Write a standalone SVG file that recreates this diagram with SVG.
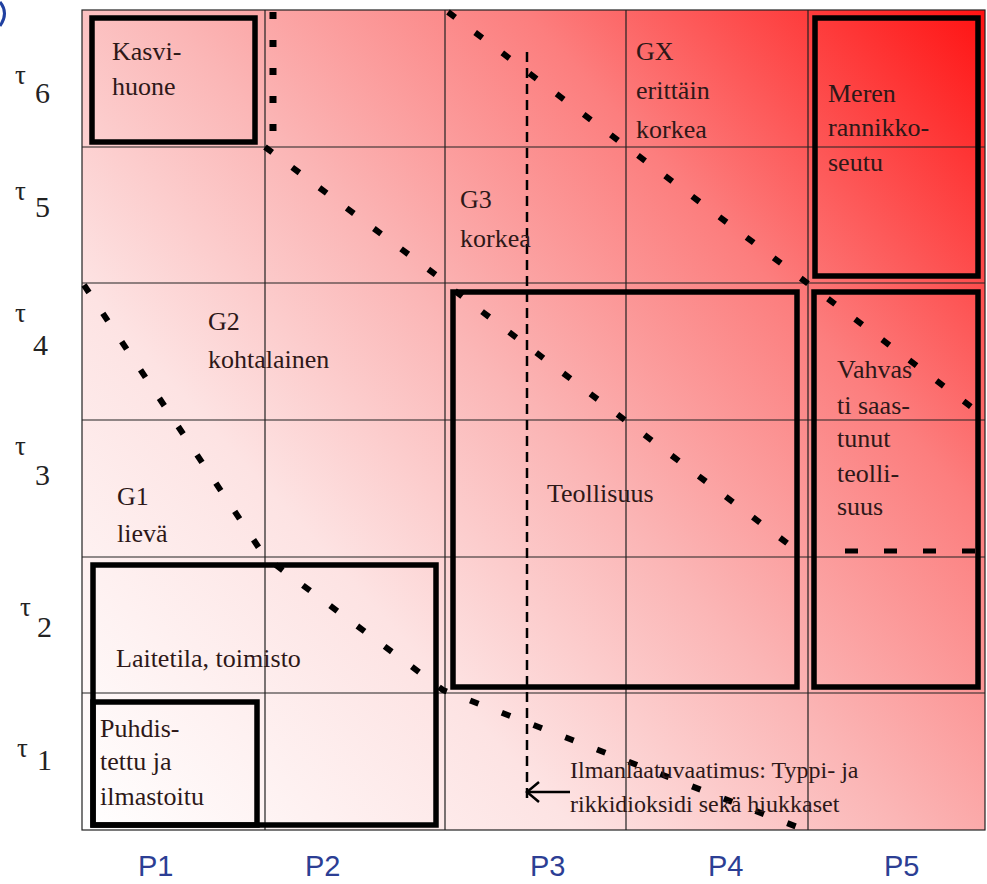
<svg xmlns="http://www.w3.org/2000/svg" width="987" height="884" viewBox="0 0 987 884">
<style>
.t{font-family:"Liberation Serif","Times New Roman",serif;font-size:26px;fill:#2e1818}
.s{font-size:24px}
.tau{font-family:"Liberation Serif","Times New Roman",serif;font-size:27px;fill:#222}
.num{font-family:"Liberation Serif","Times New Roman",serif;font-size:30px;fill:#222}
.p{font-family:"Liberation Sans",Arial,sans-serif;font-size:29px;fill:#2c3e94}
.grid{stroke:#222;stroke-width:1.2;fill:none}
.box{stroke:#000;stroke-width:5.5;fill:none}
.dot{stroke:#000;stroke-width:6;fill:none;stroke-dasharray:9 25}
</style>
<defs>
<linearGradient id="bg" gradientUnits="userSpaceOnUse" x1="82" y1="830" x2="985" y2="10">
<stop offset="0" stop-color="#ffffff"/>
<stop offset="0.3" stop-color="#fde3e3"/>
<stop offset="0.5" stop-color="#fbb6b6"/>
<stop offset="0.72" stop-color="#fc7e7e"/>
<stop offset="1" stop-color="#ff1212"/>
</linearGradient>
<marker id="arr" markerWidth="16" markerHeight="22" refX="14" refY="11" orient="auto" markerUnits="userSpaceOnUse">
<path d="M2,1 L14,11 L2,21" fill="none" stroke="#000" stroke-width="2.5"/>
</marker>
</defs>
<rect width="987" height="884" fill="#ffffff"/>
<path d="M0,2 Q9,13 0,26" fill="none" stroke="#2040a0" stroke-width="3"/>
<g id="grid">
<rect x="82" y="10" width="903" height="820" fill="url(#bg)"/>
<rect x="82" y="10" width="903" height="820" class="grid"/>
<path class="grid" d="M265,10V830M445,10V830M626,10V830M808,10V830M82,147H985M82,283H985M82,420H985M82,557H985M82,693H985"/>
</g>
<g id="row-labels">
<text class="tau" x="15" y="84">τ</text><text class="num" x="35" y="103">6</text>
<text class="tau" x="15" y="200">τ</text><text class="num" x="35" y="217">5</text>
<text class="tau" x="15" y="322">τ</text><text class="num" x="33" y="355">4</text>
<text class="tau" x="15" y="455">τ</text><text class="num" x="35" y="485">3</text>
<text class="tau" x="20" y="616">τ</text><text class="num" x="37" y="637">2</text>
<text class="tau" x="17" y="757">τ</text><text class="num" x="37" y="770">1</text>
</g>
<g id="col-labels">
<text class="p" x="138" y="876">P1</text>
<text class="p" x="305" y="876">P2</text>
<text class="p" x="530" y="876">P3</text>
<text class="p" x="708" y="876">P4</text>
<text class="p" x="884" y="876">P5</text>
</g>
<g id="connectors">
<path d="M273,12V142" fill="none" stroke="#000" stroke-width="7" stroke-dasharray="7 21"/>
<path class="dot" d="M265,147L440,278"/>
<path class="dot" d="M448,12L978,412"/>
<path class="dot" d="M455,291L800,553"/>
<path class="dot" d="M84,285L265,557L443,690L805,830"/>
<path d="M845,551H978" fill="none" stroke="#000" stroke-width="5" stroke-dasharray="13 26"/>
<path d="M527,52V800" fill="none" stroke="#000" stroke-width="2.5" stroke-dasharray="10 6"/>
<path d="M570,792H527" fill="none" stroke="#000" stroke-width="2.5" marker-end="url(#arr)"/>
</g>
<g id="kasvihuone">
<rect class="box" x="92" y="18" width="163" height="124"/>
<text class="t" x="112" y="60">Kasvi-</text>
<text class="t" x="112" y="95">huone</text>
</g>
<g id="meren-rannikkoseutu">
<rect class="box" x="815" y="18" width="163" height="258"/>
<text class="t" x="828" y="102">Meren</text>
<text class="t" x="828" y="136">rannikko-</text>
<text class="t" x="828" y="171">seutu</text>
</g>
<g id="teollisuus">
<rect class="box" x="453" y="292" width="344" height="395"/>
<text class="t" x="547" y="502">Teollisuus</text>
</g>
<g id="vahvasti-saastunut">
<rect class="box" x="814" y="292" width="164" height="395"/>
<text class="t" x="837" y="378">Vahvas</text>
<text class="t" x="837" y="414">ti saas-</text>
<text class="t" x="837" y="447">tunut</text>
<text class="t" x="837" y="482">teolli-</text>
<text class="t" x="837" y="515">suus</text>
</g>
<g id="laitetila">
<rect class="box" x="93" y="565" width="343" height="260"/>
<text class="t" x="116" y="667">Laitetila, toimisto</text>
</g>
<g id="puhdistettu">
<rect class="box" x="93" y="702" width="164" height="123"/>
<text class="t" x="100" y="737">Puhdis-</text>
<text class="t" x="100" y="770">tettu ja</text>
<text class="t" x="100" y="805">ilmastoitu</text>
</g>
<g id="gx">
<text class="t" x="636" y="60">GX</text>
<text class="t" x="636" y="99">erittäin</text>
<text class="t" x="636" y="138">korkea</text>
</g>
<g id="g3">
<text class="t" x="460" y="208">G3</text>
<text class="t" x="460" y="247">korkea</text>
</g>
<g id="g2">
<text class="t" x="208" y="330">G2</text>
<text class="t" x="208" y="368">kohtalainen</text>
</g>
<g id="g1">
<text class="t" x="117" y="505">G1</text>
<text class="t" x="117" y="542">lievä</text>
</g>
<g id="ilmanlaatu">
<text class="t s" x="570" y="778">Ilmanlaatuvaatimus: Typpi- ja</text>
<text class="t s" x="570" y="812">rikkidioksidi sekä hiukkaset</text>
</g>
</svg>
